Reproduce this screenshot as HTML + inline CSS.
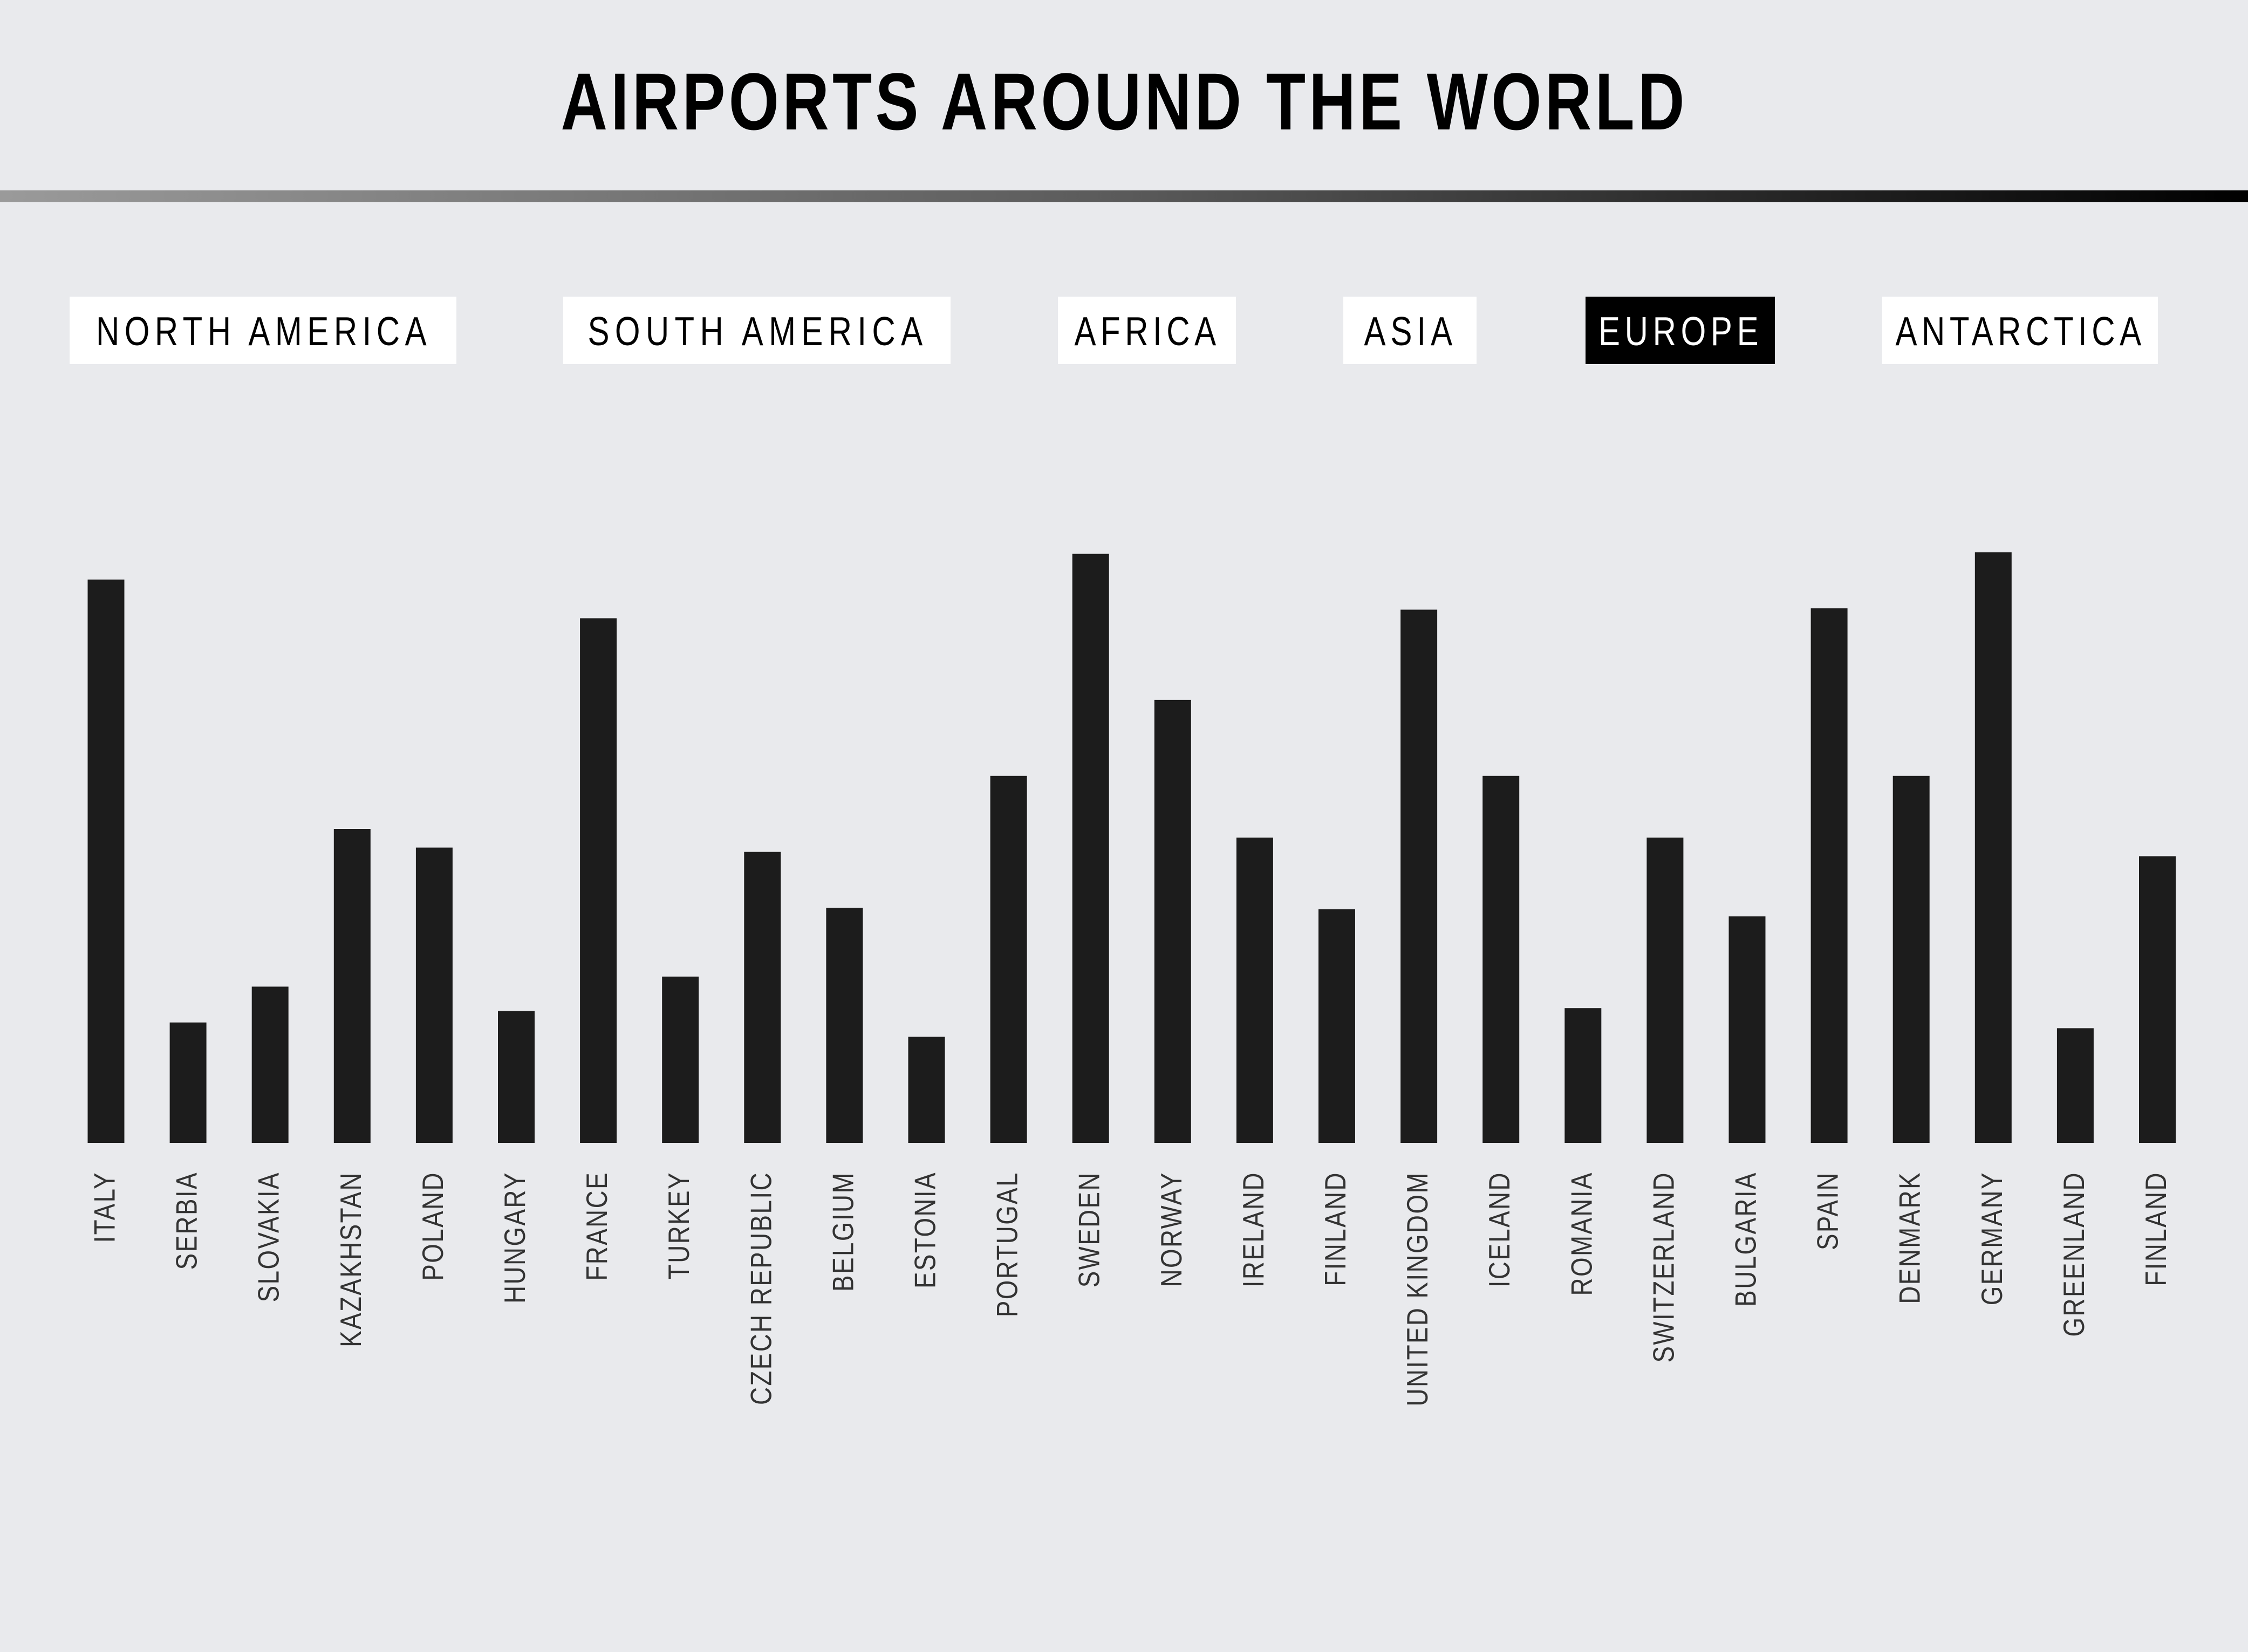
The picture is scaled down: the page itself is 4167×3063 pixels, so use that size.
<!DOCTYPE html>
<html><head><meta charset="utf-8"><style>
html,body{margin:0;padding:0;background:#e9eaed;}
svg{display:block;}
</style></head><body>
<svg id="chart" width="4167" height="3063" viewBox="0 0 4167 3063" xmlns="http://www.w3.org/2000/svg">
<defs><linearGradient id="lg" x1="0" x2="1" y1="0" y2="0"><stop offset="0" stop-color="#9a9a9a"/><stop offset="0.5" stop-color="#5a5a5a"/><stop offset="1" stop-color="#000"/></linearGradient></defs>
<rect width="4167" height="3063" fill="#e9eaed"/>
<text x="2081" y="240" text-anchor="middle" font-family="'Liberation Sans Narrow','Liberation Sans',sans-serif" font-weight="bold" font-size="150" textLength="2604" lengthAdjust="spacing" fill="#000" transform="translate(2081,0) scale(0.8,1) translate(-2081,0)">AIRPORTS AROUND THE WORLD</text>
<rect x="0" y="353" width="4167" height="22" fill="url(#lg)"/>
<g id="tabs"></g>
<g id="bars"></g>
<g id="labels"></g>
</svg>
<script>
const categories=["ITALY","SERBIA","SLOVAKIA","KAZAKHSTAN","POLAND","HUNGARY","FRANCE","TURKEY","CZECH REPUBLIC","BELGIUM","ESTONIA","PORTUGAL","SWEDEN","NORWAY","IRELAND","FINLAND","UNITED KINGDOM","ICELAND","ROMANIA","SWITZERLAND","BULGARIA","SPAIN","DENMARK","GERMANY","GREENLAND","FINLAND"];
const values=[393,84,109,219,206,92,366,116,203,164,74,256,411,309,213,163,372,256,94,213,158,373,256,412,80,200];
const regions=["NORTH AMERICA","SOUTH AMERICA","AFRICA","ASIA","EUROPE","ANTARCTICA"];
const activeRegion="EUROPE";

const NS="http://www.w3.org/2000/svg";
const baseY=2119, x0=162.5, step=152.1, barW=68, yScale=2.6575;
function xPos(i){return x0+i*step;}
function yPos(v){return baseY-v*yScale;}

const tabBox=[[129,846,619],[1044,1762,627],[1961,2291,269],[2490,2737,170],[2939,3290,303],[3489,4000,462]];
const tabs=document.getElementById('tabs');
regions.forEach((r,i)=>{
  const [a,b,tl]=tabBox[i];
  const act=r===activeRegion;
  const g=document.createElementNS(NS,'g');
  
  
  const rc=document.createElementNS(NS,'rect');
  rc.setAttribute('x',a);rc.setAttribute('y',550);rc.setAttribute('width',b-a);rc.setAttribute('height',125);
  rc.setAttribute('fill',act?'#000':'#fff');
  g.appendChild(rc);
  const t=document.createElementNS(NS,'text');
  const cx=(a+b)/2;
  t.setAttribute('x',cx);t.setAttribute('y',640);t.setAttribute('text-anchor','middle');
  t.setAttribute('font-family',"'Liberation Sans Narrow','Liberation Sans',sans-serif");
  t.setAttribute('font-size','75');t.setAttribute('fill',act?'#fff':'#000');
  t.setAttribute('letter-spacing','8');
  t.setAttribute('transform','translate('+cx+',0) scale(0.8,1) translate('+(-cx)+',0)');
  t.setAttribute('textLength',tl/0.8);t.setAttribute('lengthAdjust','spacing');
  t.textContent=r;
  g.appendChild(t);
  tabs.appendChild(g);
});

const bars=document.getElementById('bars'), labels=document.getElementById('labels');
categories.forEach((c,i)=>{
  const r=document.createElementNS(NS,'rect');
  
  
  const y=yPos(values[i]);
  r.setAttribute('x',xPos(i));r.setAttribute('y',y);r.setAttribute('width',barW);r.setAttribute('height',baseY-y);
  r.setAttribute('fill','#1c1c1c');
  bars.appendChild(r);
  const t=document.createElementNS(NS,'text');
  
  
  const cx=xPos(i)+barW/2+16;
  t.setAttribute('transform','translate('+cx+',2172) rotate(-90) scale(0.83,1)');
  t.setAttribute('text-anchor','end');
  t.setAttribute('font-family',"'Liberation Sans Narrow','Liberation Sans',sans-serif");
  t.setAttribute('font-size','55');t.setAttribute('fill','#333');t.setAttribute('letter-spacing','3');
  t.textContent=c;
  labels.appendChild(t);
});
</script>
</body></html>
